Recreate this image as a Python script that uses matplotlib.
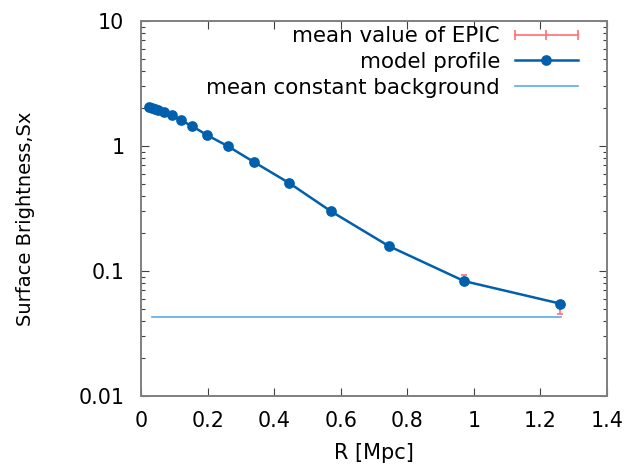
import matplotlib.pyplot as plt
from matplotlib.lines import Line2D
from matplotlib.legend_handler import HandlerLine2D
from matplotlib.ticker import FixedLocator, FixedFormatter, LogLocator, NullFormatter, MultipleLocator

# radial surface brightness profile
r_mpc = [0.025, 0.032, 0.042, 0.052, 0.069, 0.092, 0.119, 0.154, 0.199, 0.260,
         0.339, 0.445, 0.571, 0.745, 0.971, 1.260]
sx_obs = [2.04, 2.01, 1.96, 1.90, 1.82, 1.75, 1.61, 1.44, 1.22, 1.00,
          0.745, 0.506, 0.300, 0.158, 0.088, 0.050]
sx_err = [0.10, 0.10, 0.10, 0.10, 0.09, 0.07, 0.06, 0.05, 0.04, 0.03,
          0.02, 0.012, 0.008, 0.005, 0.005, 0.0048]
sx_model = [2.05, 2.02, 1.99, 1.95, 1.86, 1.76, 1.61, 1.44, 1.22, 1.00,
            0.745, 0.506, 0.300, 0.158, 0.083, 0.0548]
bkg_r = [0.032, 1.263]
bkg_level = 0.0429

red = '#ff6f6f'
blue = '#0060ad'
light = '#5aaaf0'
grey = '#7f7f7f'

fig = plt.figure(figsize=(6.28, 4.68), dpi=100)
ax = fig.add_axes([141 / 628, 1 - 396 / 468, 466 / 628, 375 / 468])

ax.errorbar(r_mpc, sx_obs, yerr=sx_err, fmt='none', ecolor=red, elinewidth=1.2,
            capsize=2, capthick=1.2, zorder=2)
ax.plot(r_mpc, sx_model, color=blue, lw=1.8, marker='o', ms=6.7, zorder=3)
ax.plot(bkg_r, [bkg_level, bkg_level], color=light, lw=1.2, zorder=1)

ax.set_yscale('log')
ax.set_xlim(0, 1.4)
ax.set_ylim(0.01, 10)
ax.xaxis.set_major_locator(MultipleLocator(0.2))
ax.xaxis.set_major_formatter(plt.FuncFormatter(lambda v, p: '%g' % round(v, 1)))
ax.yaxis.set_major_locator(FixedLocator([0.01, 0.1, 1, 10]))
ax.yaxis.set_major_formatter(FixedFormatter(['0.01', '0.1', '1', '10']))
ax.yaxis.set_minor_locator(LogLocator(base=10, subs=range(2, 10)))
ax.yaxis.set_minor_formatter(NullFormatter())

for s in ax.spines.values():
    s.set_color(grey)
    s.set_linewidth(1.4)
ax.tick_params(which='both', direction='in', top=True, right=True,
               labelsize=14.9, color='#404040', width=0.8)
ax.tick_params(which='major', length=6)
ax.tick_params(which='minor', length=3)
ax.tick_params(axis='y', pad=12)
ax.tick_params(axis='x', pad=10.5)

ax.set_xlabel('R [Mpc]', fontsize=15, labelpad=9)
ax.set_ylabel('Surface Brightness,Sx', fontsize=14)
ax.yaxis.set_label_coords(-106 / 466, 0.472)

h_epic = Line2D([], [], color=red, lw=1.2, marker='|', ms=7, mew=1.2)
h_model = Line2D([], [], color=blue, lw=1.8, marker='o', ms=6.7)
h_bkg = Line2D([], [], color=light, lw=1.2)
ax.legend([h_epic, h_model, h_bkg],
          ['mean value of EPIC', 'model profile', 'mean constant background'],
          handler_map={h_epic: HandlerLine2D(numpoints=3, marker_pad=0),
                       h_model: HandlerLine2D(numpoints=1)},
          loc='upper right', bbox_to_anchor=(1 - 29 / 466, 1 - 5 / 375),
          frameon=False, markerfirst=False, fontsize=15.4, handlelength=2.95,
          handletextpad=0.7, labelspacing=0.27, borderpad=0, borderaxespad=0)

fig.savefig('out.png', dpi=100)
